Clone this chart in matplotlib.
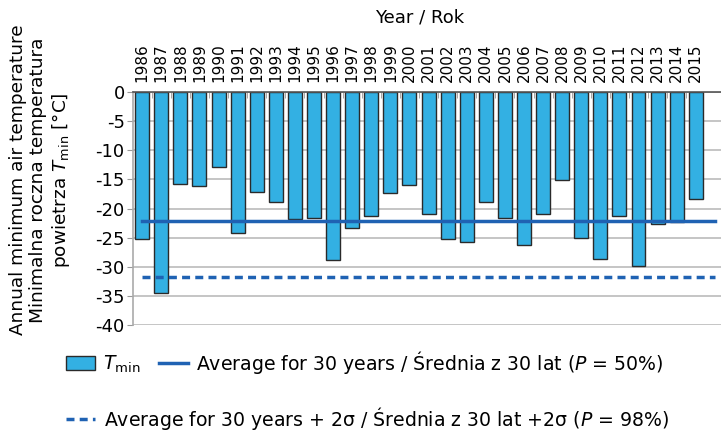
import matplotlib
matplotlib.use('Agg')
import matplotlib.pyplot as plt
import matplotlib.patches as mpatches
import matplotlib.lines as mlines
import numpy as np

# the reference text is a wide Arial-like face, DejaVu Sans matches its widths best
plt.rcParams['font.family'] = ['DejaVu Sans']
plt.rcParams['mathtext.fontset'] = 'dejavusans'

years = list(range(1986, 2016))
tmin = [-25.3, -34.5, -15.8, -16.2, -12.8, -24.2, -17.1, -18.8, -21.8, -21.6,
        -28.8, -23.4, -21.3, -17.4, -15.9, -21.0, -25.2, -25.7, -18.9, -21.7,
        -26.2, -21.0, -15.1, -25.0, -28.6, -21.3, -29.8, -22.7, -22.3, -18.3]
avg_30 = -22.1
avg_2sigma = -31.8

bar_color = '#33b0e3'
line_color = '#1f62b3'

fig = plt.figure(figsize=(7.21, 4.30), dpi=100)
ax = fig.add_axes([0.1845, 0.2442, 0.8155, 0.5418])

x = np.arange(len(years))
ax.bar(x, tmin, width=0.73, color=bar_color, edgecolor='#2a2a2a', linewidth=1.0, zorder=2)
ax.plot([0, 30], [avg_30, avg_30], color=line_color, lw=2.5, zorder=3)
ax.plot([0, 30], [avg_2sigma, avg_2sigma], color=line_color, lw=2.5,
        dashes=(2.3, 1.5), zorder=3)

ax.set_xlim(-0.48, 30.32)
ax.set_ylim(-40, 0)
ax.set_yticks(np.arange(-40, 1, 5))
ax.set_yticklabels([str(v) for v in range(-40, 1, 5)], fontsize=13)
ax.yaxis.grid(True, color='#bbbbbb', lw=1.2, zorder=0)
ax.set_axisbelow(True)

ax.xaxis.tick_top()
ax.set_xticks(x)
ax.set_xticklabels([str(y) for y in years], rotation=90, fontsize=11)
ax.tick_params(axis='x', length=0, pad=7)
ax.set_xticks(x[:-1] + 0.5, minor=True)
ax.tick_params(axis='x', which='minor', direction='in', length=4, color='#999999', top=True, bottom=False)
ax.tick_params(axis='y', length=4, color='#999999', pad=2)

for s in ['right', 'bottom']:
    ax.spines[s].set_visible(False)
ax.spines['left'].set_color('#aaaaaa')
ax.spines['left'].set_linewidth(1.2)
ax.spines['top'].set_color('#555555')
ax.spines['top'].set_linewidth(1.2)

fig.text(420 / 721, 1 - 18 / 430, 'Year / Rok', ha='center', va='center', fontsize=13)
fig.text(0.056, 1 - 180 / 430,
         'Annual minimum air temperature\nMinimalna roczna temperatura\npowietrza $T_{\\mathrm{min}}$ [°C]',
         rotation=90, ha='center', va='center', fontsize=13.3, multialignment='center',
         linespacing=1.15)

h_bar = mpatches.Patch(facecolor=bar_color, edgecolor='#2a2a2a', linewidth=1.0)
h_avg = mlines.Line2D([], [], color=line_color, lw=2.5)
h_sig = mlines.Line2D([], [], color=line_color, lw=2.5, dashes=(2.3, 1.5))

fig.legend([h_bar, h_avg],
           ['$T_{\\mathrm{min}}$', 'Average for 30 years / Średnia z 30 lat ($P$ = 50%)'],
           ncol=2, loc='center left', bbox_to_anchor=(66 / 721, 1 - 362 / 430),
           frameon=False, fontsize=13.6, handlelength=1.55, handletextpad=0.4,
           columnspacing=1.0, borderpad=0, borderaxespad=0)
fig.legend([h_sig],
           ['Average for 30 years + 2σ / Średnia z 30 lat +2σ ($P$ = 98%)'],
           loc='center left', bbox_to_anchor=(66 / 721, 1 - 418 / 430),
           frameon=False, fontsize=13.6, handlelength=1.55, handletextpad=0.45,
           borderpad=0, borderaxespad=0)

fig.savefig('out.png', dpi=100)
